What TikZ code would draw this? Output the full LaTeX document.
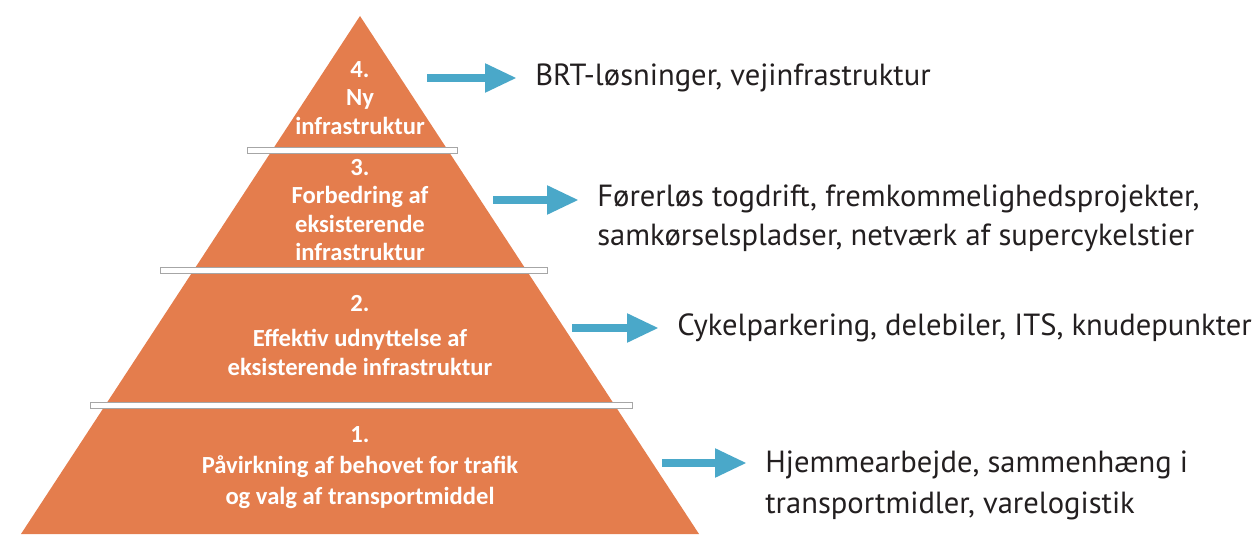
\documentclass[tikz,border=0pt]{standalone}
\usepackage{fontspec}
\setmainfont{PT Sans}
\newfontfamily\pyrfont{Carlito}
\usetikzlibrary{arrows.meta, positioning}
\definecolor{pyrOrange}{RGB}{228,125,77}
\definecolor{arrBlue}{RGB}{74,168,201}
\definecolor{txtGray}{RGB}{35,31,32}
\tikzstyle{pyramid}=[fill=pyrOrange]
\tikzstyle{sepBar}=[fill=white, draw=black!35, line width=0.3pt]
\tikzstyle{levelText}=[text=white, align=center, inner sep=0pt,
  font=\pyrfont\bfseries\fontsize{14}{16}\selectfont]
\tikzstyle{blueArrow}=[-{Triangle[length=0.64cm, width=0.54cm]},
  line width=0.16cm, draw=arrBlue, shorten >=0.36cm]
\tikzstyle{measureText}=[anchor=west, inner sep=0pt, text=txtGray, align=left,
  font=\fontsize{17.4}{22}\selectfont]

\begin{document}
\begin{tikzpicture}
      \useasboundingbox (0,0) rectangle (25.18,10.68);

      % pyramid
      \coordinate (apex) at (7.2,10.36);
      \coordinate (baseL) at (0.42,0);
      \coordinate (baseR) at (13.98,0);
      \path[pyramid] (apex) -- (baseR) -- (baseL) -- cycle;

      \draw[sepBar] (4.94,7.62) rectangle (9.14,7.74);
      \draw[sepBar] (3.2,5.22) rectangle (10.94,5.34);
      \draw[sepBar] (1.8,2.52) rectangle (12.64,2.64);

      \node[levelText] (lvl4) at (7.2,8.72) {4.\\ Ny\\ infrastruktur};
      \node[levelText] (lvl3) at (7.2,6.48) {3.\\ Forbedring af\\ eksisterende\\ infrastruktur};
      \node[levelText] (lvl2) at (7.2,3.97) {2.\\[4pt] Effektiv udnyttelse af\\ eksisterende infrastruktur};
      \node[levelText] (lvl1) at (7.2,1.33) {1.\\[1.5pt] Påvirkning af behovet for trafik\\[1.5pt] og valg af transportmiddel};

      % measures
      \coordinate (a4) at (8.54,9.12);
      \coordinate (a3) at (9.86,6.68);
      \coordinate (a2) at (11.44,4.12);
      \coordinate (a1) at (13.24,1.42);

      \node[measureText] (txt4) at (10.7,9.12) {BRT-løsninger, vejinfrastruktur};
      \node[measureText] (txt3) at (11.94,6.32) {Førerløs togdrift, fremkommelighedsprojekter,\\ samkørselspladser, netværk af supercykelstier};
      \node[measureText] (txt2) at (13.54,4.12) {Cykelparkering, delebiler, ITS, knudepunkter};
      \node[measureText] (txt1) at (15.3,0.97) {Hjemmearbejde, sammenhæng i\\[1pt] transportmidler, varelogistik};

      \foreach \i in {1,...,4}
      \draw[blueArrow] (a\i) -- (a\i -| txt\i.west);
    \end{tikzpicture}
\end{document}
